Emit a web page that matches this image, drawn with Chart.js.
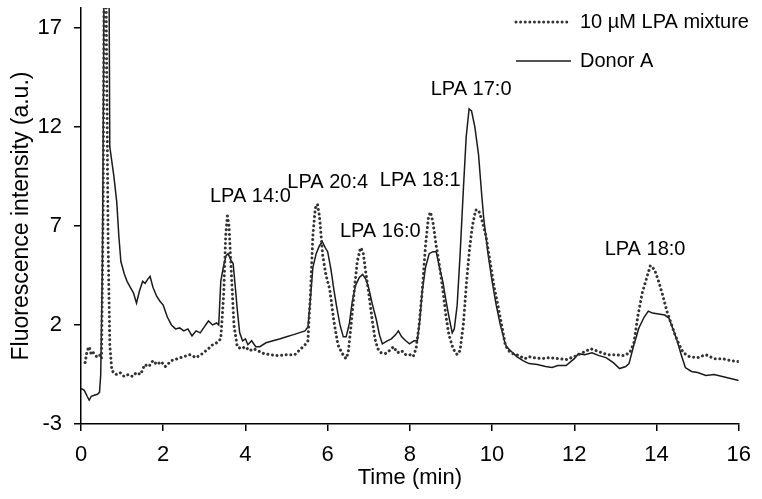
<!DOCTYPE html>
<html>
<head>
<meta charset="utf-8">
<script src="https://cdn.jsdelivr.net/npm/chart.js@4.4.0/dist/chart.umd.min.js"></script>
<style>
  html, body { margin: 0; padding: 0; background: #fff; }
</style>
</head>
<body>
<canvas id="mycanvas" width="762" height="499"></canvas>
<script>
// 10 uM LPA mixture (dotted)
var mixTime = [0.10,0.15,0.20,0.25,0.30,0.38,0.45,0.50,0.54,0.58,0.62,0.66,0.70,0.75,0.85,0.95,1.05,1.15,1.25,1.35,1.45,1.55,1.65,1.75,1.85,1.95,2.05,2.20,2.35,2.50,2.65,2.80,2.95,3.10,3.20,3.30,3.40,3.47,3.52,3.56,3.60,3.66,3.72,3.80,3.90,4.00,4.10,4.20,4.30,4.45,4.60,4.80,5.00,5.20,5.35,5.45,5.52,5.58,5.64,5.70,5.75,5.80,5.88,5.96,6.05,6.15,6.25,6.32,6.40,6.45,6.50,6.58,6.65,6.72,6.80,6.86,6.93,7.00,7.08,7.15,7.22,7.30,7.40,7.50,7.60,7.70,7.80,7.90,8.00,8.08,8.15,8.22,8.30,8.38,8.45,8.50,8.56,8.64,8.72,8.80,8.88,8.95,9.05,9.15,9.22,9.30,9.38,9.45,9.52,9.60,9.67,9.75,9.85,9.95,10.05,10.15,10.25,10.32,10.40,10.50,10.60,10.70,10.80,10.90,11.00,11.20,11.40,11.60,11.80,12.00,12.20,12.40,12.60,12.80,13.00,13.20,13.35,13.45,13.55,13.65,13.75,13.85,13.95,14.05,14.15,14.25,14.35,14.45,14.55,14.65,14.80,15.00,15.20,15.40,15.60,15.80,16.00];
var mixValue = [0.1,0.7,0.9,0.5,0.6,0.4,0.5,0.3,8,30,16,6,1,-0.3,-0.5,-0.4,-0.6,-0.5,-0.6,-0.4,-0.5,0,-0.1,0.2,0,0.15,-0.1,0.2,0.3,0.4,0.5,0.35,0.55,0.8,1.0,1.1,1.3,3.5,6.5,7.5,7.0,4.5,2.0,0.9,0.8,0.9,0.7,0.8,0.7,0.55,0.5,0.45,0.5,0.5,0.8,1.0,1.2,3.5,6.5,7.9,8.1,7.5,5.5,4.5,3.8,2.2,1.0,0.7,0.4,0.3,0.6,2.2,3.8,5.2,5.9,5.7,4.6,3.6,2.3,1.3,0.8,0.6,0.55,0.7,0.9,0.6,0.7,0.5,0.5,0.4,0.8,1.9,3.7,6.0,7.4,7.7,7.2,6.0,5.0,3.8,2.4,1.5,0.8,0.5,0.7,2.0,4.2,5.8,7.0,7.8,7.8,7.3,6.5,5.2,3.9,2.9,1.8,1.0,0.7,0.55,0.5,0.4,0.3,0.4,0.35,0.3,0.35,0.3,0.25,0.4,0.6,0.8,0.65,0.5,0.5,0.45,0.6,1.1,2.5,3.6,4.3,5.0,4.8,4.2,3.5,2.7,2.1,1.5,1.0,0.6,0.4,0.35,0.5,0.3,0.3,0.2,0.15];

// Donor A (solid)
var donorTime = [0.00,0.08,0.15,0.20,0.25,0.32,0.40,0.45,0.48,0.52,0.55,0.58,0.66,0.70,0.80,0.87,0.92,0.97,1.05,1.12,1.20,1.28,1.35,1.42,1.50,1.56,1.62,1.68,1.75,1.84,1.92,2.00,2.10,2.20,2.30,2.40,2.50,2.60,2.70,2.80,2.90,3.00,3.10,3.20,3.30,3.35,3.40,3.47,3.53,3.58,3.64,3.70,3.75,3.80,3.86,3.93,4.00,4.06,4.15,4.25,4.35,4.50,4.67,4.85,5.00,5.15,5.30,5.45,5.52,5.58,5.64,5.72,5.80,5.87,5.94,6.00,6.08,6.15,6.22,6.30,6.38,6.45,6.53,6.60,6.68,6.77,6.85,6.93,7.00,7.08,7.18,7.26,7.33,7.45,7.55,7.65,7.72,7.80,7.90,7.99,8.10,8.18,8.24,8.30,8.38,8.47,8.56,8.64,8.72,8.80,8.88,8.96,9.03,9.08,9.15,9.22,9.30,9.37,9.44,9.50,9.58,9.67,9.75,9.80,9.90,10.00,10.10,10.20,10.30,10.35,10.45,10.60,10.75,10.90,11.10,11.30,11.46,11.60,11.80,12.00,12.10,12.25,12.43,12.60,12.77,12.95,13.10,13.25,13.33,13.45,13.57,13.70,13.80,13.90,14.05,14.20,14.30,14.40,14.50,14.60,14.70,14.85,15.00,15.20,15.40,15.60,15.80,16.00];
var donorValue = [-1.2,-1.3,-1.6,-1.8,-1.6,-1.55,-1.5,-1.4,-0.5,5,15,30,30,11,9.5,8.2,6.5,5.2,4.6,4.2,3.9,3.6,3.1,3.7,4.2,4.1,4.3,4.45,3.9,3.45,3.2,3.0,2.4,2.0,1.8,1.85,1.7,1.8,1.45,1.7,1.6,1.9,2.2,2.0,2.1,2.0,4.2,5.0,5.5,5.6,5.3,5.1,4.0,2.8,1.6,1.2,1.3,1.0,1.2,0.9,0.9,1.1,1.2,1.3,1.4,1.5,1.6,1.7,1.9,3.3,4.9,5.6,6.0,6.2,5.9,5.7,4.8,3.8,2.9,2.0,1.4,1.4,2.1,3.2,4.0,4.4,4.55,4.3,3.85,3.1,2.3,1.5,1.05,1.2,1.3,1.5,1.7,1.4,1.2,1.05,1.2,1.2,2.2,3.7,4.9,5.6,5.7,5.7,4.9,4.2,3.2,2.3,1.6,1.8,3.0,5.5,8.8,11.5,12.9,12.8,12.0,10.6,8.5,7.3,5.6,4.2,3.0,2.0,1.2,0.9,0.7,0.4,0.2,0.05,0.0,-0.1,-0.15,-0.05,-0.05,0.3,0.55,0.5,0.6,0.45,0.35,0.1,-0.2,-0.1,0.05,1.0,1.85,2.4,2.7,2.6,2.55,2.5,2.35,1.8,1.2,0.5,-0.15,-0.35,-0.4,-0.55,-0.5,-0.6,-0.7,-0.8];

var yTicks = [-3, 2, 7, 12, 17];

var peakNames = ["LPA 14:0", "LPA 20:4", "LPA 16:0", "LPA 18:1", "LPA 17:0", "LPA 18:0"];
var peakTime = [4.12, 6.0, 7.28, 8.25, 9.49, 13.72];
var peakLevel = [8.5, 9.2, 6.7, 9.3, 13.9, 5.8];

var seriesNames = ["10 \u00b5M LPA mixture", "Donor A"];

function toPoints(xs, ys) {
  var pts = [];
  for (var i in xs) {
    pts.push({x: xs[i], y: ys[i]});
  }
  return pts;
}

var FONT = "'Liberation Sans', Arial, Helvetica, sans-serif";

var labelsPlugin = {
  id: 'peakLabels',
  afterDatasetsDraw: function(chart) {
    var ctx = chart.ctx;
    var xs = chart.scales.x, ys = chart.scales.y;
    ctx.save();
    ctx.fillStyle = '#000';
    ctx.font = "20px " + FONT;
    ctx.textAlign = 'center';
    ctx.textBaseline = 'middle';
    for (var i in peakNames) {
      ctx.fillText(peakNames[i], xs.getPixelForValue(peakTime[i]), ys.getPixelForValue(peakLevel[i]));
    }

    // legend, top right
    var lx = 516, tx = 580;
    var rows = [22, 61];
    ctx.font = "20px " + FONT;
    ctx.textAlign = 'left';
    // dotted sample
    ctx.strokeStyle = '#333';
    ctx.lineWidth = 3;
    ctx.lineCap = 'round';
    ctx.setLineDash([0.01, 4.6]);
    ctx.beginPath();
    ctx.moveTo(lx, rows[0]);
    ctx.lineTo(lx + 54, rows[0]);
    ctx.stroke();
    // solid sample
    ctx.setLineDash([]);
    ctx.lineCap = 'butt';
    ctx.strokeStyle = '#1a1a1a';
    ctx.lineWidth = 1.5;
    ctx.beginPath();
    ctx.moveTo(lx, rows[1]);
    ctx.lineTo(lx + 55, rows[1]);
    ctx.stroke();
    ctx.fillText(seriesNames[0], tx, rows[0]);
    ctx.fillText(seriesNames[1], tx, rows[1]);
    ctx.restore();
  }
};

var ctx = document.getElementById("mycanvas");

var LineGraph = new Chart(ctx, {
  type: 'line',
  data: {
    datasets: [
      {
        label: seriesNames[0],
        data: toPoints(mixTime, mixValue),
        fill: false,
        tension: 0,
        borderColor: '#333',
        borderWidth: 3,
        borderDash: [0.01, 4.6],
        borderCapStyle: 'round',
        pointRadius: 0
      },
      {
        label: seriesNames[1],
        data: toPoints(donorTime, donorValue),
        fill: false,
        tension: 0,
        borderColor: '#1a1a1a',
        borderWidth: 1.5,
        pointRadius: 0
      }
    ]
  },
  options: {
    responsive: false,
    animation: false,
    events: [],
    layout: { padding: { top: 8, right: 22, left: 0, bottom: 0 } },
    plugins: {
      legend: { display: false },
      tooltip: { enabled: false }
    },
    scales: {
      x: {
        type: 'linear',
        min: 0,
        max: 16,
        ticks: { stepSize: 2, color: '#000', padding: 11, font: { family: FONT, size: 22 } },
        grid: { drawOnChartArea: false, drawTicks: true, tickLength: 7, color: '#000', lineWidth: 1.5 },
        border: { display: true, color: '#000', width: 1.5 },
        title: { display: true, text: 'Time (min)', color: '#000', padding: { top: 0, bottom: 8 }, font: { family: FONT, size: 22 } },
        afterFit: function(s) { s.height = 75; }
      },
      y: {
        min: -3,
        max: 18,
        afterBuildTicks: function(s) { s.ticks = yTicks.map(function(v) { return {value: v}; }); },
        ticks: { color: '#000', padding: 12, font: { family: FONT, size: 22 } },
        grid: { drawOnChartArea: false, drawTicks: true, tickLength: 7, color: '#000', lineWidth: 1.5 },
        border: { display: true, color: '#000', width: 1.5 },
        title: { display: true, text: 'Fluorescence intensity (a.u.)', color: '#000', padding: { top: 8, bottom: 0 }, font: { family: FONT, size: 23 } },
        afterFit: function(s) { s.width = 81; s.paddingTop = 0; s.paddingBottom = 0; }
      }
    }
  },
  plugins: [labelsPlugin]
});
</script>
</body>
</html>
